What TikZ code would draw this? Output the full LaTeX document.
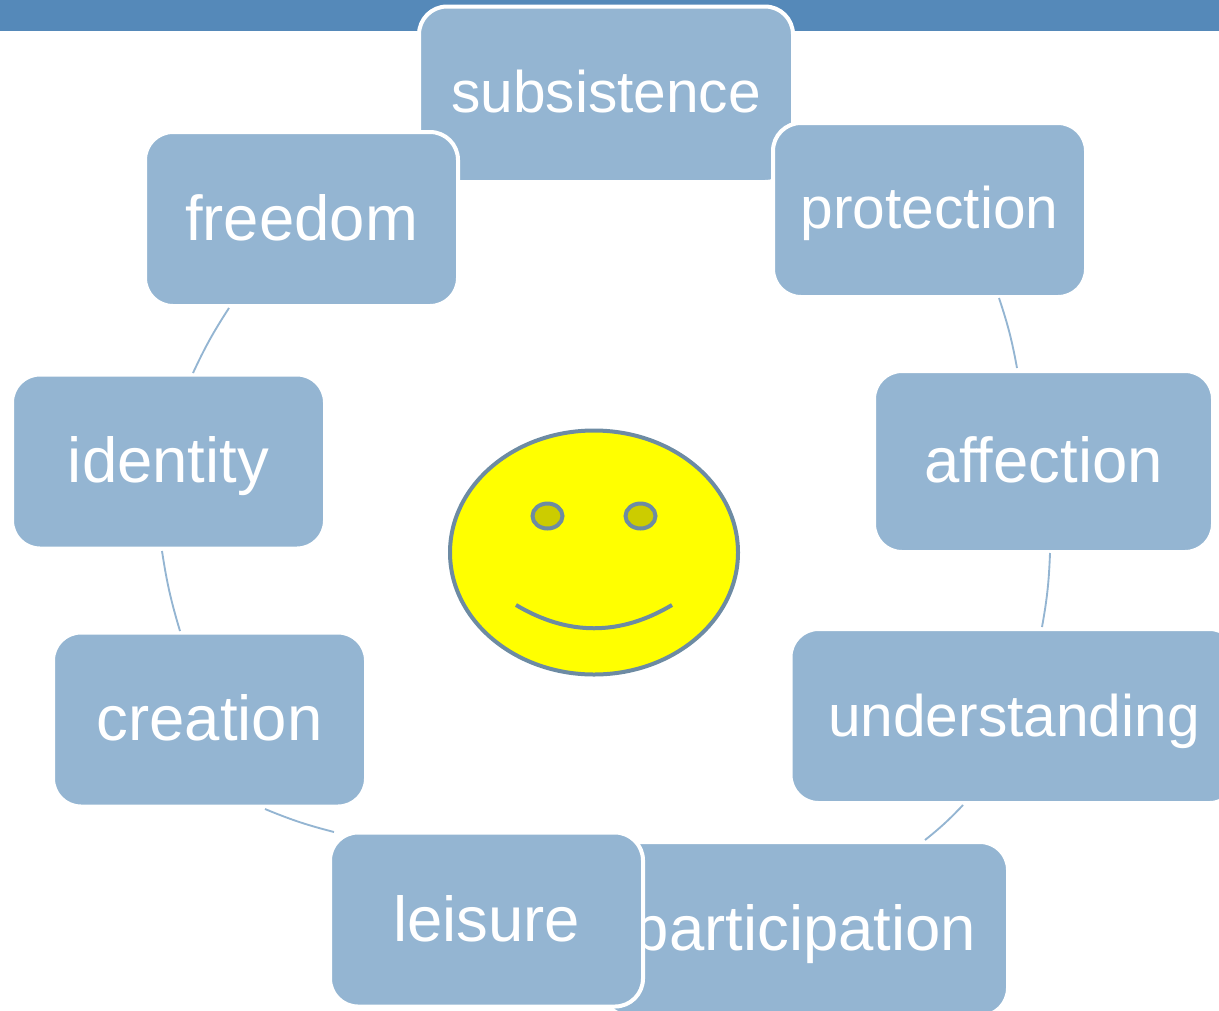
\documentclass[tikz,border=0pt]{standalone}
\usepackage{fontspec}
\setmainfont{Liberation Sans}
\usetikzlibrary{shapes.geometric,calc}
\definecolor{header}{HTML}{5589B9}
\definecolor{boxblue}{HTML}{94B5D2}
\definecolor{faceline}{HTML}{6D8BA3}
\definecolor{eyefill}{HTML}{CCCC00}
\definecolor{faceyellow}{RGB}{255,255,0}
\tikzset{
  needbox/.style={rectangle,rounded corners=21pt,fill=boxblue,draw=white,line width=3pt,
    inner sep=0pt,outer sep=0pt,align=center,text=white,text depth=6pt,
    minimum width=313*0.75pt,minimum height=174*0.75pt},
  bigtext/.style={font=\fontsize{47.6}{50}\selectfont,text height=37.5pt},
  smalltext/.style={font=\fontsize{44}{50}\selectfont,text height=33pt},
  link/.style={draw=boxblue,line width=1.4pt,bend left=4},
  faceshape/.style={ellipse,draw=faceline,inner sep=0pt,outer sep=0pt},
}
\begin{document}
\begin{tikzpicture}[x=0.75pt,y=-0.75pt]
\useasboundingbox (0,0) rectangle (1219,1010);
\clip (0,0) rectangle (1219,1010);
\fill[header] (0,0) rectangle (1219,31);
% boxes, back to front
\node[needbox,smalltext,minimum width=374*0.75pt,minimum height=175.5*0.75pt] (subsistence) at (606,94.25) {subsistence};
\node[needbox,smalltext] (protection) at (929.5,210) {protection};
\node[needbox,bigtext] (freedom) at (301.5,219) {freedom};
\node[needbox,bigtext,minimum width=339*0.75pt,minimum height=181*0.75pt] (affection) at (1043.5,461.5) {affection};
\node[needbox,smalltext,text height=36pt,minimum width=447*0.75pt] (understanding) at (1014,716) {understanding};
\node[needbox,bigtext,minimum width=406*0.75pt] (participation) at (805,929) {participation};
\node[needbox,bigtext,text height=39pt] (leisure) at (486.5,919.5) {leisure};
\node[needbox,bigtext] (creation) at (209.5,719.5) {creation};
\node[needbox,bigtext] (identity) at (168.5,461.5) {identity};
% connectors
\draw[link] ($(protection)+(69.5,88)$) to ($(affection)+(-26.5,-93.5)$);
\draw[link] ($(affection)+(6.5,91.5)$) to ($(understanding)+(28,-89)$);
\draw[link] ($(understanding)+(-51,89)$) to ($(participation)+(120,-89)$);
\draw[link] ($(leisure)+(-152.5,-87.5)$) to ($(creation)+(55.5,89.5)$);
\draw[link] ($(creation)+(-29.5,-88.5)$) to ($(identity)+(-6.5,89.5)$);
\draw[link] ($(identity)+(24.5,-88.5)$) to ($(freedom)+(-72.5,89)$);
% smiley
\node[faceshape,fill=faceyellow,line width=3pt,minimum width=288*0.75pt,minimum height=244*0.75pt] (face) at (594,552.5) {};
\node[faceshape,fill=eyefill,line width=3pt,minimum width=30*0.75pt,minimum height=25*0.75pt] (lefteye) at (547.5,516) {};
\node[faceshape,fill=eyefill,line width=3pt,minimum width=30*0.75pt,minimum height=25*0.75pt] (righteye) at (640.5,516) {};
\coordinate (smilestart) at (516,605);
\coordinate (smileend) at (672,605);
\draw[faceline,line width=3pt] (smilestart) .. controls (568,636) and (620,636) .. (smileend);
\end{tikzpicture}
\end{document}
